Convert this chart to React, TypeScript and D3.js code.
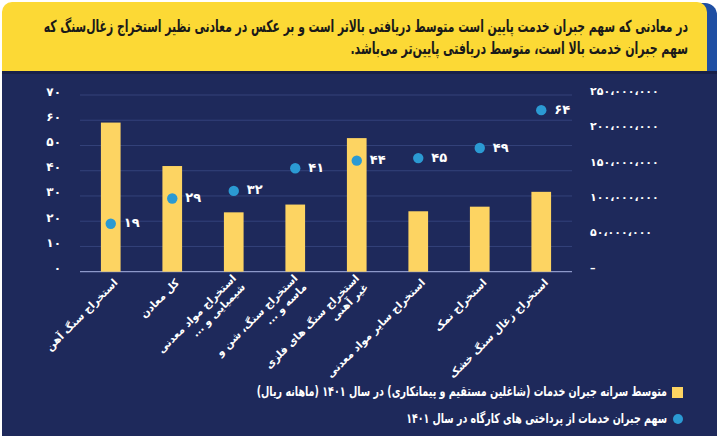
import React, { useLayoutEffect, useRef, useState } from "react";
import * as d3 from "d3";

const titleLines = [
  "در معادنی که سهم جبران خدمت پایین است متوسط دریافتی بالاتر است و بر عکس در معادنی نظیر استخراج زغال‌سنگ که",
  "سهم جبران خدمت بالا است، متوسط دریافتی پایین‌تر می‌باشد.",
];
const titleWidths = [645, 338];

const categories = [
  "استخراج سنگ آهن",
  "کل معادن",
  "استخراج مواد معدنی\nشیمیایی و ...",
  "استخراج سنگ، شن و\nماسه و ...",
  "استخراج سنگ های فلزی\nغیر آهنی",
  "استخراج سایر مواد معدنی",
  "استخراج نمک",
  "استخراج زغال سنگ خشک",
];

// monthly average compensation (rial) -> right axis
const avgComp = [211e6, 149.5e6, 84e6, 95e6, 189e6, 85.5e6, 92e6, 113e6];
// share of compensation in workshop payments (%) -> left axis
const compShare = [19, 29, 32, 41, 44, 45, 49, 64];

const leftTicks = [0, 10, 20, 30, 40, 50, 60, 70];
const rightTicks = [0, 50e6, 100e6, 150e6, 200e6, 250e6];

const legendItems = [
  "متوسط سرانه جبران خدمات (شاغلین مستقیم و پیمانکاری) در سال ۱۴۰۱ (ماهانه ریال)",
  "سهم جبران خدمات از پرداختی های کارگاه در سال ۱۴۰۱",
];
const legendWidths = [411, 261];

const FONT = "'DejaVu Sans', sans-serif";
const NAVY = "#1e295b";
const BAR = "#fdd462";
const DOT = "#2b9ad3";

const toFa = (s: string) =>
  s.replace(/\d/g, (d) => "۰۱۲۳۴۵۶۷۸۹"[+d]).replace(/,/g, "،");

// rtl text, right edge at x, squeezed horizontally to the given width
const FitText = ({ x, y, w, size, fill, children }) => {
  const ref = useRef<SVGTextElement>(null);
  const [k, setK] = useState(1);
  useLayoutEffect(() => {
    const natural = ref.current ? ref.current.getComputedTextLength() : 0;
    if (natural > 0) setK(w / natural);
  }, [w, children]);
  return (
    <text
      ref={ref}
      transform={`translate(${x},${y}) scale(${k},1)`}
      direction="rtl"
      textAnchor="start"
      dominantBaseline="middle"
      fontSize={size}
      fontWeight="bold"
      fill={fill}
    >
      {children}
    </text>
  );
};

export default function App() {
  const width = 720;
  const height = 436;
  const plotLeft = 80;
  const plotRight = 572;
  const plotTop = 95;
  const plotBottom = 271.7;

  const x = d3
    .scaleBand()
    .domain(categories)
    .range([plotLeft, plotRight])
    .paddingInner(0.68)
    .paddingOuter(0.34);
  const yL = d3.scaleLinear().domain([0, 70]).range([plotBottom, plotTop]);
  const yR = d3.scaleLinear().domain([0, 250e6]).range([plotBottom, plotTop]);
  const cx = (c: string) => (x(c) as number) + x.bandwidth() / 2;

  return (
    <svg
      width={width}
      height={height}
      style={{ position: "absolute", left: 0, top: 0, fontFamily: FONT }}
    >
      <rect width={width} height={height} fill="#fff" />
      {/* header */}
      <rect x={680} y={3} width={37} height={80} rx={12} fill="#1f4fa3" />
      <rect x={2} y={2} width={705} height={80} rx={10} fill="#fcd935" />
      <rect x={2} y={71} width={715} height={365} fill={NAVY} />
      <rect x={2} y={71} width={715} height={3} fill="#182049" />
      {titleLines.map((t, i) => (
        <FitText key={i} x={688} y={27 + i * 22} w={titleWidths[i]} size={16.5} fill="#1a1a1a">
          {t}
        </FitText>
      ))}

      {/* grid */}
      {leftTicks
        .filter((t) => t > 0)
        .map((t) => (
          <line
            key={t}
            x1={plotLeft}
            x2={plotRight}
            y1={yL(t)}
            y2={yL(t)}
            stroke="#34427a"
            strokeWidth={1}
          />
        ))}
      <line
        x1={plotLeft}
        x2={plotRight}
        y1={plotBottom}
        y2={plotBottom}
        stroke="#8d98c9"
        strokeWidth={1.2}
      />

      {/* left axis */}
      {leftTicks.map((t) => (
        <text
          key={t}
          x={61}
          y={yL(t) - 3}
          textAnchor="end"
          dominantBaseline="middle"
          fontSize={12}
          fontWeight="bold"
          fill="#fff"
        >
          {toFa(String(t))}
        </text>
      ))}
      {/* right axis */}
      {rightTicks.map((t) => (
        <text
          key={t}
          x={590}
          y={yR(t) - 3}
          textAnchor="start"
          dominantBaseline="middle"
          fontSize={11}
          fontWeight="bold"
          fill="#fff"
        >
          {t === 0 ? "–" : toFa(d3.format(",")(t))}
        </text>
      ))}

      {/* bars */}
      {categories.map((c, i) => (
        <rect
          key={c}
          x={x(c)}
          y={yR(avgComp[i])}
          width={x.bandwidth()}
          height={plotBottom - yR(avgComp[i])}
          fill={BAR}
        />
      ))}

      {/* points */}
      {categories.map((c, i) => (
        <g key={c}>
          <circle cx={cx(c)} cy={yL(compShare[i])} r={5.2} fill={DOT} />
          <text
            x={cx(c) + 13}
            y={yL(compShare[i])}
            textAnchor="start"
            dominantBaseline="middle"
            fontSize={13}
            fontWeight="bold"
            fill="#fff"
          >
            {toFa(String(compShare[i]))}
          </text>
        </g>
      ))}

      {/* category labels */}
      {categories.map((c) => {
        const lines = c.split("\n");
        return (
          <text
            key={c}
            transform={`translate(${cx(c) + 5},${plotBottom + 9}) rotate(-45)`}
            direction="rtl"
            textAnchor="start"
            fontSize={10.5}
            fontWeight="bold"
            fill="#fff"
          >
            {lines.map((l, j) => (
              <tspan
                key={j}
                x={0}
                dy={j === 0 ? `${0.35 - (lines.length - 1) * 0.6}em` : "1.2em"}
              >
                {l}
              </tspan>
            ))}
          </text>
        );
      })}

      {/* legend */}
      <rect x={672} y={387} width={11} height={11} fill={BAR} />
      <circle cx={678} cy={419} r={5} fill={DOT} />
      {legendItems.map((t, i) => (
        <FitText key={i} x={667} y={392 + i * 27} w={legendWidths[i]} size={13.5} fill="#fff">
          {t}
        </FitText>
      ))}
    </svg>
  );
}
